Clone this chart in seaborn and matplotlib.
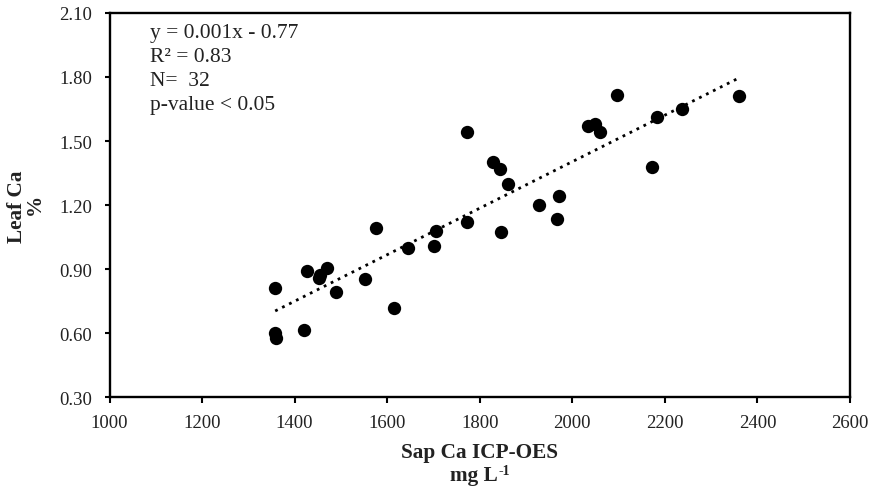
import numpy as np
import pandas as pd
import matplotlib
matplotlib.use("Agg")
import matplotlib.pyplot as plt
import seaborn as sns

# Data
sap_ca = [1358, 1358, 1360, 1420, 1427, 1455, 1453, 1471, 1489, 1551, 1615,
          1646, 1702, 1575, 1705, 1772, 1829, 1844, 1860, 1927, 1971, 1966,
          1772, 1847, 2035, 2048, 2060, 2097, 2173, 2183, 2236, 2361]
leaf_ca = [0.81, 0.60, 0.575, 0.615, 0.89, 0.87, 0.856, 0.906, 0.79, 0.853, 0.717,
           1.00, 1.01, 1.09, 1.08, 1.54, 1.40, 1.37, 1.30, 1.20, 1.24, 1.133,
           1.12, 1.075, 1.57, 1.58, 1.54, 1.716, 1.376, 1.614, 1.65, 1.711]
x_ticks = [1000, 1200, 1400, 1600, 1800, 2000, 2200, 2400, 2600]
y_ticks = [0.30, 0.60, 0.90, 1.20, 1.50, 1.80, 2.10]
stats_lines = ["y = 0.001x - 0.77", "R² = 0.83", "N=  32", "p-value < 0.05"]

df = pd.DataFrame({"sap": sap_ca, "leaf": leaf_ca})

sns.set_style("white")
plt.rcParams["font.family"] = ["Liberation Serif", "DejaVu Serif"]

W, H = 874, 489
fig = plt.figure(figsize=(W / 100, H / 100), dpi=100)
ax = fig.add_axes([0.1253, 0.186, 0.9725 - 0.1253, 0.9714 - 0.186])

sns.regplot(data=df, x="sap", y="leaf", ax=ax, ci=None,
            scatter_kws=dict(s=92, color="black", linewidths=0, alpha=1),
            line_kws=dict(color="black", linestyle=(0, (1, 1.8)), lw=2.0))

ax.set_xlim(1000, 2600)
ax.set_ylim(0.30, 2.10)
ax.set_xticks(x_ticks)
ax.set_xticklabels([str(v) for v in x_ticks])
ax.set_yticks(y_ticks)
ax.set_yticklabels([f"{v:.2f}" for v in y_ticks])

for s in ax.spines.values():
    s.set_visible(True)
    s.set_color("black")
    s.set_linewidth(1.7)

ax.tick_params(axis="both", direction="out", width=1.5, colors="black",
               labelsize=13.5, labelcolor="#222222")
ax.tick_params(axis="x", length=4.5, pad=8, bottom=True)
ax.tick_params(axis="y", length=3.5, pad=9, left=True)

ax.set_xlabel("")
ax.set_ylabel("")

# Axis titles (two lines each) placed as figure text
lab = dict(fontsize=15.3, fontweight="bold", color="#222222")
fig.text(479.5 / W, 1 - 458 / H, "Sap Ca ICP-OES", ha="center", va="baseline", **lab)
fig.text(450 / W, 1 - 481 / H, "mg L", ha="left", va="baseline", **lab)
fig.text(498 / W, 1 - 475 / H, "-1", ha="left", va="baseline",
         fontsize=10, fontweight="bold", color="#222222")
fig.text(16.5 / W, 1 - 207 / H, "Leaf Ca", rotation=90, ha="center", va="center", **lab)
fig.text(35 / W, 1 - 204 / H, "%", rotation=90, ha="center", va="center", **lab)

ax.text(0.055, 0.975, "\n".join(stats_lines), transform=ax.transAxes,
        fontsize=15.5, va="top", ha="left", linespacing=1.36, color="#222222")

fig.savefig("out.png", dpi=100)
